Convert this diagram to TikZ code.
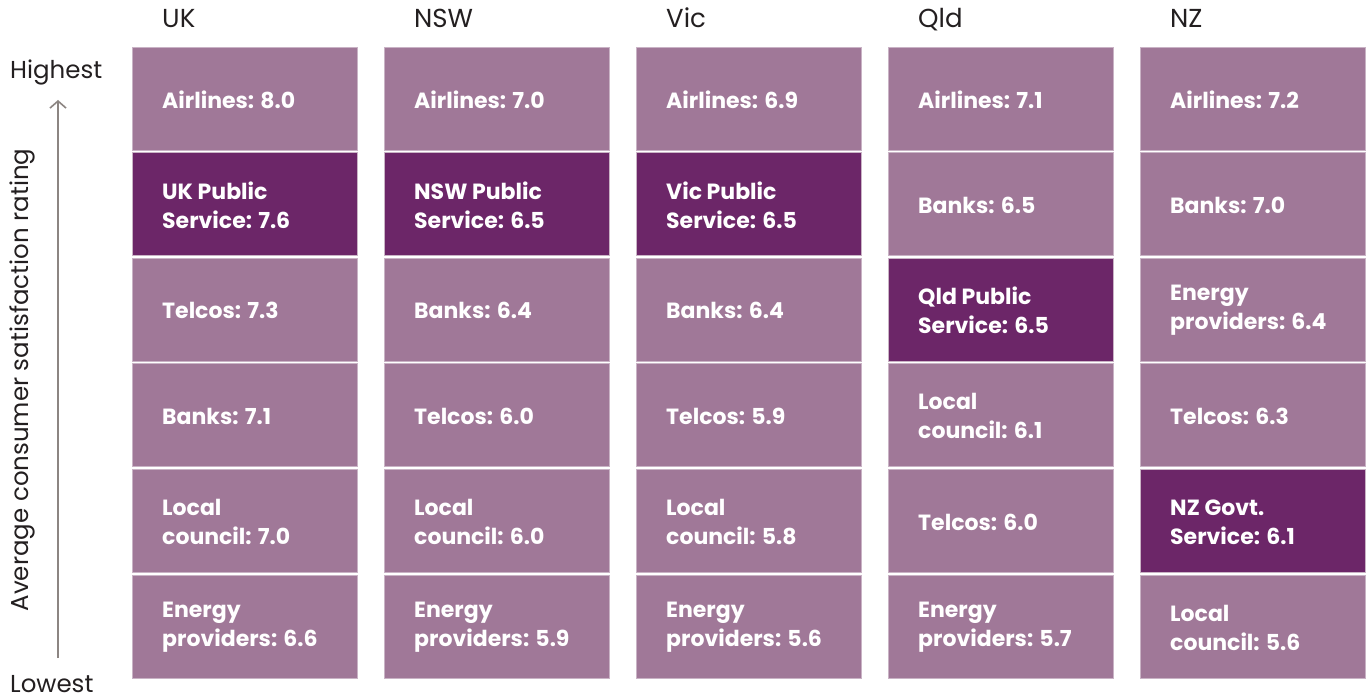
\documentclass[tikz,border=0pt]{standalone}
\usepackage{fontspec}
\setmainfont{Poppins}
\usetikzlibrary{arrows.meta}
\definecolor{lightp}{HTML}{A07898}
\definecolor{darkp}{HTML}{6C2668}
\definecolor{edgep}{HTML}{C9B3C5}
\definecolor{txt}{HTML}{231F20}
\definecolor{axisg}{HTML}{8C8582}
\tikzset{
  cell/.style={fill=lightp, draw=edgep, line width=0.8pt},
  cellhi/.style={fill=darkp, draw=edgep, line width=0.8pt},
  celltext/.style={anchor=west, text=white, align=left, inner sep=0pt, font=\fontsize{22}{29}\selectfont\bfseries},
  header/.style={anchor=base west, text=txt, inner sep=0pt, font=\fontsize{26}{30}\selectfont},
  axislabel/.style={text=txt, inner sep=0pt, font=\fontsize{24.5}{29}\selectfont},
}
\begin{document}
\begin{tikzpicture}[x=1pt,y=-1pt]
\useasboundingbox (0,0) rectangle (1368,698);
% headers
\foreach \h [count=\i from 0] in {UK,NSW,Vic,Qld,NZ}{
  \node[header] (h\i) at (162+252*\i,28) {\h};
}
% cells: column, row, style, text
\foreach \c/\r/\s/\t in {
 0/0/cell/{Airlines: 8.0},
 0/1/cellhi/{UK Public\\Service: 7.6},
 0/2/cell/{Telcos: 7.3},
 0/3/cell/{Banks: 7.1},
 0/4/cell/{Local\\council: 7.0},
 0/5/cell/{Energy\\providers: 6.6},
 1/0/cell/{Airlines: 7.0},
 1/1/cellhi/{NSW Public\\Service: 6.5},
 1/2/cell/{Banks: 6.4},
 1/3/cell/{Telcos: 6.0},
 1/4/cell/{Local\\council: 6.0},
 1/5/cell/{Energy\\providers: 5.9},
 2/0/cell/{Airlines: 6.9},
 2/1/cellhi/{Vic Public\\Service: 6.5},
 2/2/cell/{Banks: 6.4},
 2/3/cell/{Telcos: 5.9},
 2/4/cell/{Local\\council: 5.8},
 2/5/cell/{Energy\\providers: 5.6},
 3/0/cell/{Airlines: 7.1},
 3/1/cell/{Banks: 6.5},
 3/2/cellhi/{Qld Public\\Service: 6.5},
 3/3/cell/{Local\\council: 6.1},
 3/4/cell/{Telcos: 6.0},
 3/5/cell/{Energy\\providers: 5.7},
 4/0/cell/{Airlines: 7.2},
 4/1/cell/{Banks: 7.0},
 4/2/cell/{Energy\\providers: 6.4},
 4/3/cell/{Telcos: 6.3},
 4/4/cellhi/{NZ Govt.\\Service: 6.1},
 4/5/cell/{Local\\council: 5.6}}{
  \pgfmathsetmacro{\xl}{132+252*\c}
  \pgfmathsetmacro{\yt}{47+105.6*\r}
  \draw[\s] (\xl,\yt) rectangle ++(225,103);
  \node[celltext] (t\c\r) at (\xl+30,\yt+52.5) {\t};
}
% axis
\node[axislabel, anchor=base west] (hi) at (10,79) {Highest};
\node[axislabel, anchor=base west] (lo) at (10,692) {Lowest};
\node[axislabel, rotate=90] (ax) at (22,380) {Average consumer satisfaction rating};
\coordinate (abot) at (58,658);
\coordinate (atop) at (58,100);
\draw[axisg, line width=2pt, -{Straight Barb[length=7pt,width=16pt,line width=1.6pt]}] (abot) -- (atop);
\end{tikzpicture}
\end{document}
